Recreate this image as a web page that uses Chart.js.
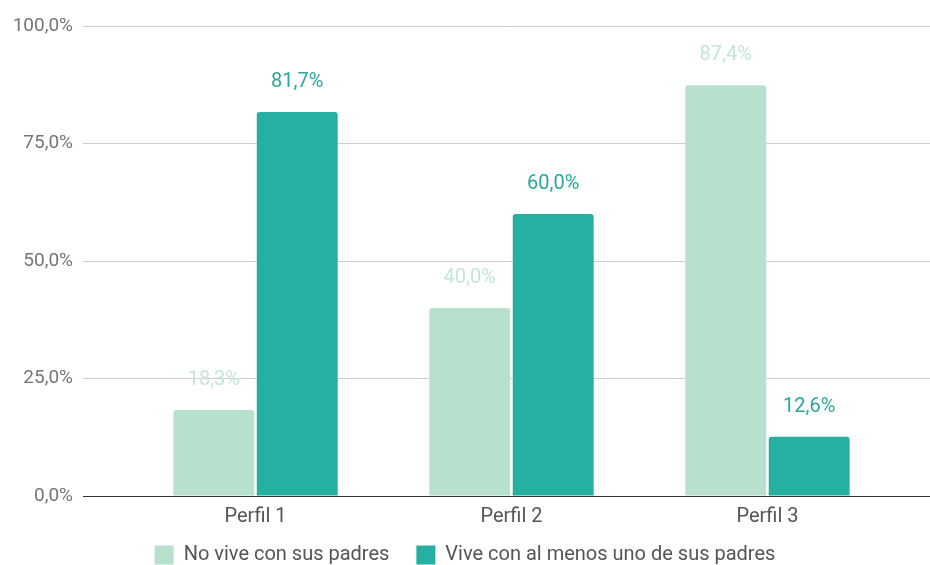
<!DOCTYPE html>
<html>
<head>
<meta charset="utf-8">
<script src="https://cdn.jsdelivr.net/npm/chart.js@4"></script>
<style>
  html, body { margin: 0; padding: 0; background: #ffffff; }
  #wrap { width: 930px; height: 565px; }
</style>
</head>
<body>
<div id="wrap"><canvas id="c" width="930" height="565"></canvas></div>
<script>
const categories = ['Perfil 1', 'Perfil 2', 'Perfil 3'];
const seriesNames = ['No vive con sus padres', 'Vive con al menos uno de sus padres'];
const noVive = [18.3, 40.0, 87.4];
const vive = [81.7, 60.0, 12.6];
const yTicks = [0, 25, 50, 75, 100];

const fmt = v => v.toFixed(1).replace('.', ',') + '%';
const FONT = 'Roboto, "Noto Sans", sans-serif';

const barColors = ['#b7e1cd', '#26b0a1'];
const labelColors = ['#c3e6d6', '#26a99b'];

const valueLabels = {
  id: 'valueLabels',
  afterDatasetsDraw(chart) {
    const ctx = chart.ctx;
    ctx.save();
    ctx.font = '20px ' + FONT;
    ctx.textAlign = 'center';
    ctx.textBaseline = 'alphabetic';
    chart.data.datasets.forEach((ds, di) => {
      const meta = chart.getDatasetMeta(di);
      meta.data.forEach((el, i) => {
        ctx.fillStyle = labelColors[di];
        ctx.fillText(fmt(ds.data[i].y), el.x, el.y - 25);
      });
    });
    ctx.restore();
  }
};

new Chart(document.getElementById('c'), {
  type: 'bar',
  data: {
    datasets: [
      {
        label: seriesNames[0],
        data: noVive.map((v, i) => ({ x: i + 1, y: v })),
        backgroundColor: barColors[0],
        borderRadius: { topLeft: 3, topRight: 3 },
        borderSkipped: 'bottom'
      },
      {
        label: seriesNames[1],
        data: vive.map((v, i) => ({ x: i + 1, y: v })),
        backgroundColor: barColors[1],
        borderRadius: { topLeft: 3, topRight: 3 },
        borderSkipped: 'bottom'
      }
    ]
  },
  options: {
    responsive: false,
    animation: false,
    devicePixelRatio: 1,
    categoryPercentage: 0.652,
    barPercentage: 0.97,
    layout: { padding: { top: 26, right: 0, left: 0, bottom: 0 } },
    plugins: {
      tooltip: { enabled: false },
      legend: {
        position: 'bottom',
        maxHeight: 47,
        labels: {
          boxWidth: 19,
          boxHeight: 19,
          padding: 27,
          color: '#555555',
          font: { family: FONT, size: 20 }
        }
      }
    },
    scales: {
      x: {
        type: 'linear',
        offset: false,
        min: 0.326,
        max: 3.635,
        grid: { display: false, drawTicks: false, offset: false },
        border: { display: true, color: '#333333', width: 1 },
        afterBuildTicks: s => { s.ticks = categories.map((c, i) => ({ value: i + 1 })); },
        afterFit: s => { s.height = 22; },
        ticks: {
          mirror: true,
          padding: -33,
          color: '#555555',
          font: { family: FONT, size: 20 },
          callback: v => categories[v - 1]
        }
      },
      y: {
        min: 0,
        max: 100,
        afterBuildTicks: s => { s.ticks = yTicks.map(v => ({ value: v })); },
        grid: {
          drawTicks: false,
          color: ctx => (ctx.tick && ctx.tick.value === 0) ? '#333333' : '#cccccc'
        },
        border: { display: false },
        afterFit: s => { s.width = 83; },
        ticks: {
          padding: 10,
          color: '#757575',
          font: { family: FONT, size: 19 },
          callback: v => fmt(v)
        }
      }
    }
  },
  plugins: [valueLabels]
});
</script>
</body>
</html>
